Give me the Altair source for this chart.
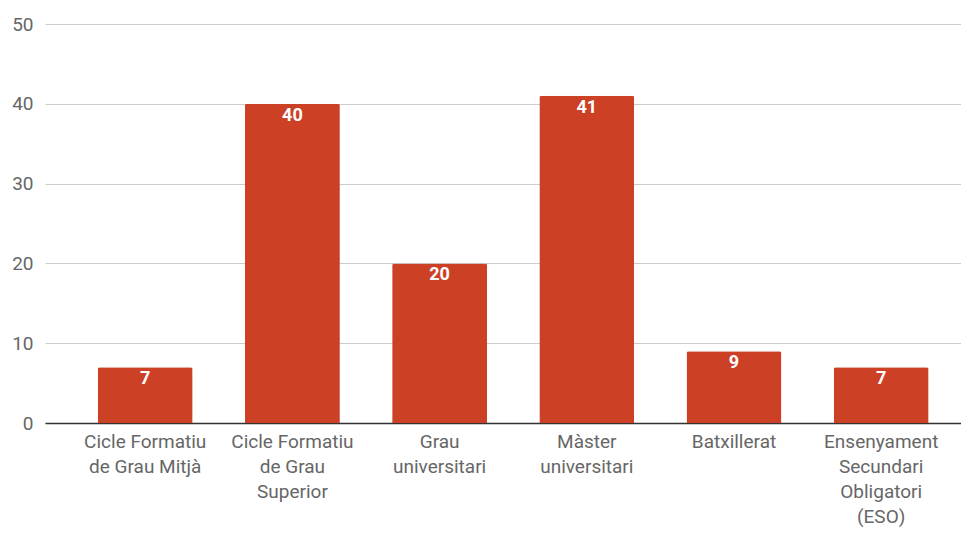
import altair as alt
import pandas as pd

categories = [
    "Cicle Formatiu\nde Grau Mitjà",
    "Cicle Formatiu\nde Grau\nSuperior",
    "Grau\nuniversitari",
    "Màster\nuniversitari",
    "Batxillerat",
    "Ensenyament\nSecundari\nObligatori\n(ESO)",
]
values = [7, 40, 20, 41, 9, 7]

df = pd.DataFrame({"cat": categories, "val": values})

x = alt.X(
    "cat:N",
    sort=categories,
    title=None,
    scale=alt.Scale(paddingInner=0.355, paddingOuter=0.289, align=0.62),
    axis=alt.Axis(
        labelAngle=0,
        labelExpr="split(datum.label, '\\n')",
        labelFont="Roboto",
        labelFontSize=19,
        labelColor="#666666",
        labelLineHeight=25,
        labelPadding=9,
        labelBaseline="top",
        ticks=False,
        domainColor="#333333",
        domainWidth=1.5,
        grid=False,
        labelLimit=300,
    ),
)

y = alt.Y(
    "val:Q",
    title=None,
    scale=alt.Scale(domain=[0, 50]),
    axis=alt.Axis(
        values=[0, 10, 20, 30, 40, 50],
        labelFont="Roboto",
        labelFontSize=19,
        labelColor="#666666",
        labelPadding=12,
        ticks=False,
        domain=False,
        gridColor="#cccccc",
        gridWidth=1,
    ),
)

bars = alt.Chart(df).mark_bar(color="#cc4125", cornerRadiusTopLeft=2, cornerRadiusTopRight=2).encode(x=x, y=y)

labels = alt.Chart(df).mark_text(
    color="white", font="Roboto", fontWeight="bold", fontSize=18, baseline="middle", dy=12
).encode(x=alt.X("cat:N", sort=categories), y="val:Q", text="val:Q")

chart = (
    alt.layer(bars, labels)
    .properties(
        width=916,
        height=399,
        autosize=alt.AutoSizeParams(type="none"),
        padding={"left": 37, "top": 16, "right": 0, "bottom": 105},
    )
    .configure_view(stroke=None)
)

chart.save("out.html", embed_options={"renderer": "svg", "actions": False})
